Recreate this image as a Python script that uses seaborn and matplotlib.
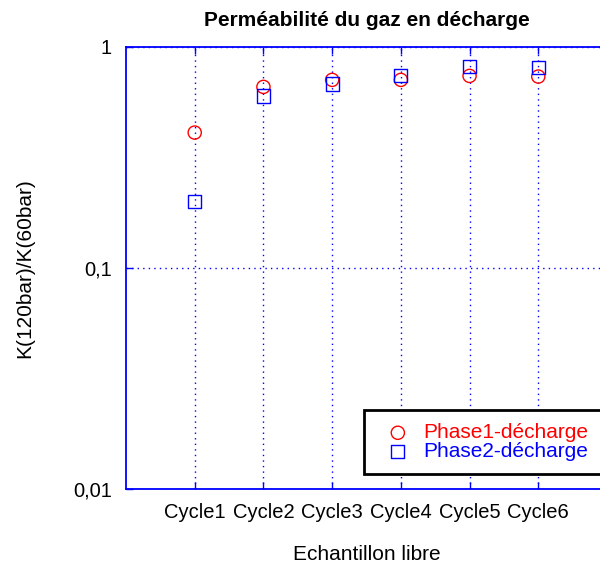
import matplotlib
matplotlib.use("Agg")
import matplotlib.pyplot as plt
import seaborn as sns
import pandas as pd
from matplotlib.ticker import FixedLocator, NullLocator, FixedFormatter

# Data
cycles = ["Cycle1", "Cycle2", "Cycle3", "Cycle4", "Cycle5", "Cycle6"]
phase1 = [0.41, 0.66, 0.71, 0.71, 0.74, 0.735]
phase2 = [0.20, 0.60, 0.68, 0.745, 0.815, 0.805]
series_names = ["Phase1-décharge", "Phase2-décharge"]
series_colors = ["#ff0000", "#0000ff"]
series_markers = ["o", "s"]
y_ticks = [0.01, 0.1, 1]
y_tick_labels = ["0,01", "0,1", "1"]

sns.set_theme(style="white")
plt.rcParams["font.family"] = ["Liberation Sans", "DejaVu Sans"]

df = pd.DataFrame({
    "cycle": cycles * 2,
    "ratio": phase1 + phase2,
    "serie": [series_names[0]] * len(cycles) + [series_names[1]] * len(cycles),
})

fig = plt.figure(figsize=(6.0, 5.69), dpi=100)
ax = fig.add_axes([126 / 600, 80 / 569, 481 / 600, 442 / 569])

for name, col, mk in zip(series_names, series_colors, series_markers):
    sub = df[df["serie"] == name]
    sns.scatterplot(data=sub, x="cycle", y="ratio", ax=ax, marker=mk,
                    facecolor="none", edgecolor=col, color=col,
                    s=90, linewidths=1.0, label=name, zorder=3)

ax.set_yscale("log")
ax.set_ylim(0.01, 1)
ax.set_xlim(-1, 6)
ax.yaxis.set_major_locator(FixedLocator(y_ticks))
ax.yaxis.set_major_formatter(FixedFormatter(y_tick_labels))
ax.yaxis.set_minor_locator(NullLocator())

blue = "#0000ff"
ax.grid(True, which="major", color=blue, linestyle=(0, (1, 3)), linewidth=1.0)
for side in ["left", "bottom", "top"]:
    ax.spines[side].set_color(blue)
    ax.spines[side].set_linewidth(1.3)
ax.spines["right"].set_visible(False)

ax.tick_params(axis="both", which="major", direction="in", length=5,
               color=blue, width=1.0, labelsize=14.5, labelcolor="black", pad=10)
ax.tick_params(axis="x", top=True, bottom=True)
ax.tick_params(axis="y", left=True, right=False)

ax.set_title("Perméabilité du gaz en décharge", fontsize=15, fontweight="bold",
             color="black", pad=15)
ax.set_xlabel("Echantillon libre", fontsize=15, color="black", labelpad=17)
ax.set_ylabel("K(120bar)/K(60bar)", fontsize=15, color="black", labelpad=28)

leg = ax.legend(loc="upper left", bbox_to_anchor=(0.495, 0.178), frameon=True,
                fontsize=15, fancybox=False, borderpad=0.62, handletextpad=0.22,
                labelspacing=0.0, borderaxespad=0, handlelength=2.0)
leg.get_frame().set_edgecolor("black")
leg.get_frame().set_linewidth(2.0)
leg.get_frame().set_alpha(1)
for txt, col in zip(leg.get_texts(), series_colors):
    txt.set_color(col)

fig.savefig("out.png", dpi=100)
